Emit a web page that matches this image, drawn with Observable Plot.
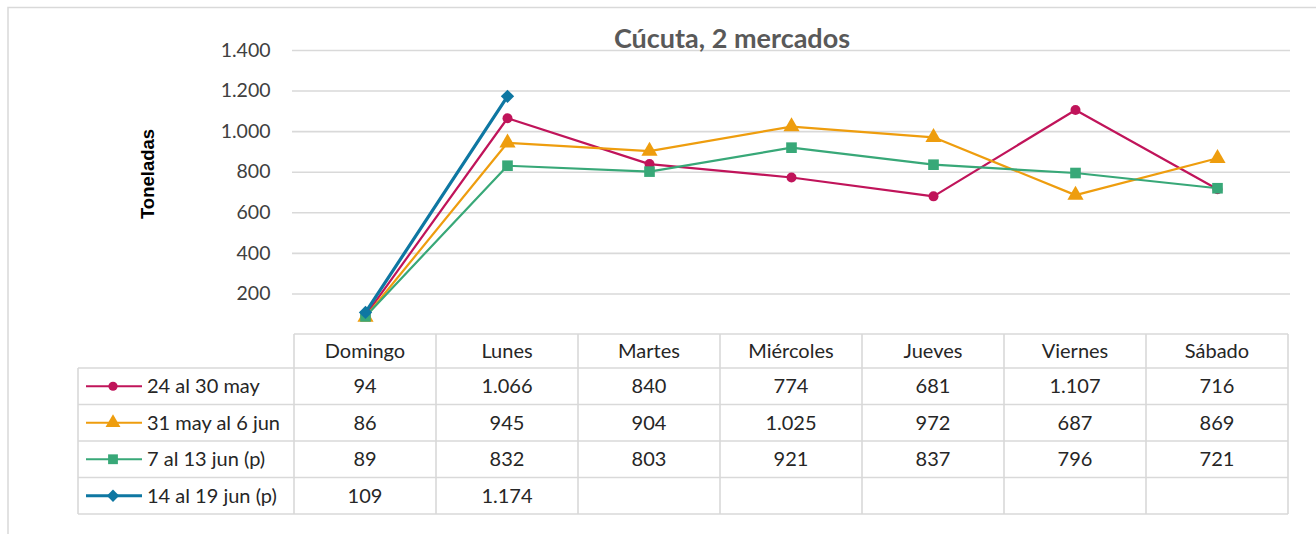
<!DOCTYPE html>
<html><head><meta charset="utf-8">
<script src="https://cdn.jsdelivr.net/npm/d3@7"></script>
<script src="https://cdn.jsdelivr.net/npm/@observablehq/plot@0.6"></script>
<style>
body{margin:0;background:#fff;}
svg{display:block}
</style></head>
<body><div id="chart"></div>
<script>
// ---- data ----
const days = ["Domingo","Lunes","Martes","Miércoles","Jueves","Viernes","Sábado"];
const seriesNames = ["24 al 30 may","31 may al 6 jun","7 al 13 jun (p)","14 al 19 jun (p)"];
const s1 = [94,1066,840,774,681,1107,716];
const s2 = [86,945,904,1025,972,687,869];
const s3 = [89,832,803,921,837,796,721];
const s4 = [109,1174];
const yTicks = [200,400,600,800,1000,1200,1400];
const yTickLabels = ["200","400","600","800","1.000","1.200","1.400"];
const colors = ["#C0145A","#EE9D0E","#38A878","#0E77A2"];
const symbols = ["circle","triangle","square","diamond2"];
const title = "Cúcuta, 2 mercados";
const yLabel = "Toneladas";

// ---- build ----
const seriesValues = [s1,s2,s3,s4];
const rows = [];
seriesValues.forEach((vals,i)=>vals.forEach((v,j)=>rows.push({series:seriesNames[i],day:days[j],value:v})));
const widths = [2.2,2.2,2.2,3.2];
const radii = [5,6,6,6];
const fmt = d3.formatLocale({decimal:",",thousands:".",grouping:[3],currency:["",""]}).format(",d");
const FONT = "Lato, 'Open Sans', sans-serif";
const GRID = "#d9d9d9";

const lineMarks = [];
seriesNames.forEach((name,i)=>{
  const d = rows.filter(r=>r.series===name);
  lineMarks.push(Plot.line(d,{x:"day",y:"value",stroke:colors[i],strokeWidth:widths[i]}));
  lineMarks.push(Plot.dot(d,{x:"day",y:"value",fill:colors[i],stroke:"none",symbol:()=>symbols[i],r:radii[i]}));
});

const plot = Plot.plot({
  width:1316, height:534,
  marginTop:50, marginBottom:200, marginLeft:292, marginRight:26,
  style:{fontFamily:FONT,fontSize:"19px",color:"#404040",background:"#fff",overflow:"visible"},
  x:{type:"point",domain:days,padding:0.5,axis:null},
  y:{domain:[0,1400],axis:null},
  symbol:{type:"identity"},
  marks:[
    Plot.ruleY(yTicks,{stroke:GRID,strokeWidth:1.6}),
    Plot.axisY({ticks:yTicks,tickFormat:d=>yTickLabels[yTicks.indexOf(d)],tickSize:0,tickPadding:22,label:null,fontSize:19.5}),
    ...lineMarks
  ]
});
document.getElementById("chart").appendChild(plot);

// ---- title, axis label, frame, data table ----
const svg = d3.select(plot);
const xs = plot.scale("x");
const step = xs.apply(days[1]) - xs.apply(days[0]);
const left = xs.apply(days[0]) - step/2;
const right = xs.apply(days[days.length-1]) + step/2;

const g = svg.append("g");
// outer chart frame (top and left edges visible)
g.append("path").attr("d","M8,534V7.5H1316").attr("fill","none").attr("stroke",GRID).attr("stroke-width",1.5);

g.append("text").attr("x",732).attr("y",48).attr("text-anchor","middle")
  .attr("font-family",FONT).attr("font-weight","bold").attr("font-size",27).attr("fill","#595959").text(title);
g.append("text").attr("transform","translate(154,174) rotate(-90)").attr("text-anchor","middle")
  .attr("font-family","'Liberation Sans', Arial, sans-serif").attr("font-weight","bold").attr("font-size",18.5).attr("fill","#000").text(yLabel);

// table
const rowTops = [334,368,404.5,441,477.5,514];
const headerLeft = 78;
const tg = g.append("g").attr("font-family",FONT).attr("font-size",20).attr("fill","#262626");
const line = (x1,y1,x2,y2)=>tg.append("line").attr("x1",x1).attr("y1",y1).attr("x2",x2).attr("y2",y2).attr("stroke",GRID).attr("stroke-width",1.6);
// horizontals
line(left,rowTops[0],right,rowTops[0]);
for(let k=1;k<rowTops.length;k++) line(headerLeft,rowTops[k],right,rowTops[k]);
// verticals
line(headerLeft,rowTops[1],headerLeft,rowTops[5]);
for(let c=0;c<=days.length;c++){ const x=left+c*step; line(x,rowTops[0],x,rowTops[5]); }
// header labels
days.forEach(d=>tg.append("text").attr("x",xs.apply(d)).attr("y",(rowTops[0]+rowTops[1])/2).attr("dy","0.35em").attr("text-anchor","middle").text(d));
// rows
seriesNames.forEach((name,i)=>{
  const cy = (rowTops[i+1]+rowTops[i+2])/2;
  tg.append("line").attr("x1",86).attr("x2",142).attr("y1",cy).attr("y2",cy).attr("stroke",colors[i]).attr("stroke-width",widths[i]);
  const symType = {circle:d3.symbolCircle,triangle:d3.symbolTriangle,square:d3.symbolSquare,diamond2:d3.symbolDiamond2}[symbols[i]];
  tg.append("path").attr("transform",`translate(113,${cy})`).attr("d",d3.symbol(symType,radii[i]*radii[i]*Math.PI*0.85)()).attr("fill",colors[i]);
  tg.append("text").attr("x",147).attr("y",cy).attr("dy","0.35em").attr("text-anchor","start").text(name);
  seriesValues[i].forEach((v,j)=>tg.append("text").attr("x",xs.apply(days[j])).attr("y",cy).attr("dy","0.35em").attr("text-anchor","middle").text(fmt(v)));
});
</script></body></html>
